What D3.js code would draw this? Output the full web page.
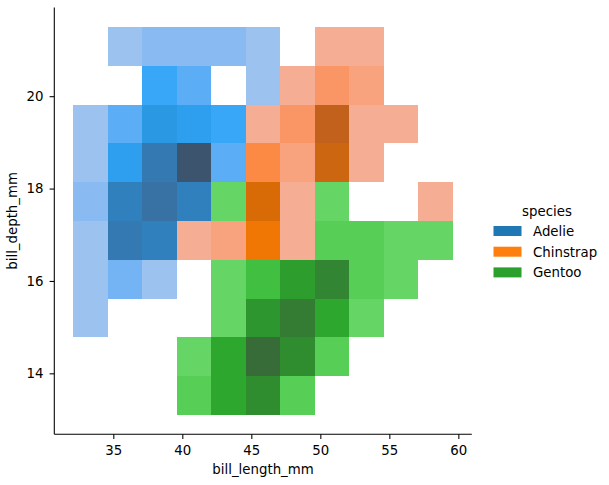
<!DOCTYPE html>
<html>
<head>
<meta charset="utf-8">
<script src="https://cdn.jsdelivr.net/npm/d3@7"></script>
<style>
  body { margin: 0; background: #fff; }
  svg { display: block; }
  text { font-family: "DejaVu Sans", sans-serif; }
</style>
</head>
<body>
<svg id="chart" width="609" height="485"></svg>
<script>
// ---------------- DATA ----------------
const species = ["Adelie", "Chinstrap", "Gentoo"];
const speciesColors = ["#1f77b4", "#ff7f0e", "#2ca02c"];
const xBinStart = 32.1, xBinWidth = 2.5, xBinCount = 11;   // bill_length_mm bins
const yBinStart = 13.1, yBinWidth = 0.84, yBinCount = 10;  // bill_depth_mm bins
const xTicks = [35, 40, 45, 50, 55, 60];
const yTicks = [14, 16, 18, 20];
// counts per bin, rows from bottom (13.1) to top, columns left (32.1) to right
const adelieCounts = [
  [0,0,0,0,0,0,0,0,0,0,0],
  [0,0,0,0,0,0,0,0,0,0,0],
  [1,0,0,0,0,0,0,0,0,0,0],
  [1,3,1,0,0,0,0,0,0,0,0],
  [1,11,10,0,0,0,0,0,0,0,0],
  [2,10,12,10,0,0,0,0,0,0,0],
  [1,6,11,16,4,0,0,0,0,0,0],
  [1,4,7,6,5,0,0,0,0,0,0],
  [0,0,5,4,0,1,0,0,0,0,0],
  [0,1,2,2,2,1,0,0,0,0,0]
];
const chinstrapCounts = [
  [0,0,0,0,0,0,0,0,0,0,0],
  [0,0,0,0,0,0,0,0,0,0,0],
  [0,0,0,0,0,0,0,0,0,0,0],
  [0,0,0,0,0,0,0,0,0,0,0],
  [0,0,0,1,2,6,1,0,0,0,0],
  [0,0,0,0,0,8,1,0,0,0,1],
  [0,0,0,0,0,4,2,9,1,0,0],
  [0,0,0,0,0,1,3,10,1,1,0],
  [0,0,0,0,0,0,1,3,2,0,0],
  [0,0,0,0,0,0,0,1,1,0,0]
];
const gentooCounts = [
  [0,0,0,2,7,10,2,0,0,0,0],
  [0,0,0,1,7,14,10,2,0,0,0],
  [0,0,0,0,1,9,12,7,1,0,0],
  [0,0,0,0,1,4,8,11,2,1,0],
  [0,0,0,0,0,0,0,2,2,1,1],
  [0,0,0,0,1,0,0,1,0,0,0],
  [0,0,0,0,0,0,0,0,0,0,0],
  [0,0,0,0,0,0,0,0,0,0,0],
  [0,0,0,0,0,0,0,0,0,0,0],
  [0,0,0,0,0,0,0,0,0,0,0]
];
const speciesCounts = [adelieCounts, chinstrapCounts, gentooCounts];

// ---------------- HUSL (seaborn's vendored version) ----------------
const M = [[3.2406,-1.5372,-0.4986],[-0.9689,1.8758,0.0415],[0.0557,-0.2040,1.0570]];
const MINV = [[0.4124,0.3576,0.1805],[0.2126,0.7152,0.0722],[0.0193,0.1192,0.9505]];
const refX=0.95047, refY=1.0, refZ=1.08883, refU=0.19784, refV=0.46834, labE=0.008856, labK=903.3;
function maxChroma(L, H) {
  const hrad = H / 180 * Math.PI, sinH = Math.sin(hrad), cosH = Math.cos(hrad);
  const sub1 = Math.pow(L + 16, 3) / 1560896;
  const sub2 = sub1 > 0.008856 ? sub1 : L / 903.3;
  let result = Infinity;
  for (const [m1, m2, m3] of M) {
    const top = (0.99915*m1 + 1.05122*m2 + 1.14460*m3) * sub2;
    const rb = 0.86330*m3 - 0.17266*m2, lb = 0.12949*m3 - 0.38848*m1;
    const bottom = (rb*sinH + lb*cosH) * sub2;
    for (const t of [0, 1]) {
      const C = L * (top - 1.05122*t) / (bottom + 0.17266*sinH*t);
      if (C > 0 && C < result) result = C;
    }
  }
  return result;
}
const dot = (a, b) => a[0]*b[0] + a[1]*b[1] + a[2]*b[2];
const fromLinear = c => c <= 0.0031308 ? 12.92*c : 1.055*Math.pow(c, 1/2.4) - 0.055;
const toLinear = c => c > 0.04045 ? Math.pow((c + 0.055)/1.055, 2.4) : c/12.92;
const fInv = t => Math.pow(t,3) > labE ? Math.pow(t,3) : (116*t - 16)/labK;
const fF = t => t > labE ? Math.pow(t, 1/3) : 7.787*t + 16/116;
function huslToRgb(h, s, l) {
  let L = l, C, H = h;
  if (l > 99.9999) { L = 100; C = 0; }
  else if (l < 0.00001) { L = 0; C = 0; }
  else C = maxChroma(l, h) / 100 * s;
  const hr = H / 180 * Math.PI;
  const U = Math.cos(hr)*C, V = Math.sin(hr)*C;
  if (L === 0) return [0,0,0];
  const varY = fInv((L + 16)/116);
  const varU = U/(13*L) + refU, varV = V/(13*L) + refV;
  const Y = varY*refY;
  const X = 0 - (9*Y*varU)/((varU - 4)*varV - varU*varV);
  const Z = (9*Y - 15*varV*Y - varV*X)/(3*varV);
  return M.map(row => fromLinear(dot(row, [X, Y, Z])));
}
function rgbToHusl(r, g, b) {
  const lin = [toLinear(r), toLinear(g), toLinear(b)];
  const [X, Y, Z] = MINV.map(row => dot(row, lin));
  const den = X + 15*Y + 3*Z;
  const vu = 4*X/den, vv = 9*Y/den;
  const L = 116*fF(Y/refY) - 16;
  const U = 13*L*(vu - refU), V = 13*L*(vv - refV);
  const C = Math.sqrt(U*U + V*V);
  let H = Math.atan2(V, U) * 180 / Math.PI;
  if (H < 0) H += 360;
  const S = C / maxChroma(L, H) * 100;
  return [H, S, L];
}
function cmapFromColor(hex) {
  const c = d3.rgb(hex);
  const [h, s] = rgbToHusl(c.r/255, c.g/255, c.b/255);
  const n = Math.floor(1.15*256);
  const colors = [];
  for (let i = 0; i < 256; i++) {
    const xx = -1 + 2*i/(n - 1);
    const rgb = huslToRgb(h, s*Math.cos(xx), 35 + 45*i/255).map(v => Math.max(0, Math.min(1, v)));
    colors.push(d3.rgb(rgb[0]*255, rgb[1]*255, rgb[2]*255).formatHex());
  }
  return colors.reverse();
}

// ---------------- CHART ----------------
const svg = d3.select("#chart");
const margin = {left: 54.3, right: 471.8, top: 7.5, bottom: 434.3};
const x = d3.scaleLinear().domain([30.725, 60.975]).range([margin.left, margin.right]);
const y = d3.scaleLinear().domain([12.68, 21.92]).range([margin.bottom, margin.top]);

const vmax = d3.max(speciesCounts.flat(2));
const vmin = 0;

const cells = svg.append("g").attr("shape-rendering", "crispEdges");
speciesCounts.forEach((grid, si) => {
  const cmap = cmapFromColor(speciesColors[si]);
  const colorOf = v => {
    let idx = Math.floor((v - vmin)/(vmax - vmin) * 256);
    idx = Math.max(0, Math.min(255, idx));
    return cmap[idx];
  };
  const data = [];
  grid.forEach((row, ri) => row.forEach((v, ci) => { if (v > 0) data.push({ri, ci, v}); }));
  cells.selectAll(null).data(data).enter().append("rect")
    .attr("x", d => x(xBinStart + d.ci*xBinWidth))
    .attr("width", d => x(xBinStart + (d.ci+1)*xBinWidth) - x(xBinStart + d.ci*xBinWidth))
    .attr("y", d => y(yBinStart + (d.ri+1)*yBinWidth))
    .attr("height", d => y(yBinStart + d.ri*yBinWidth) - y(yBinStart + (d.ri+1)*yBinWidth))
    .attr("fill", d => colorOf(d.v));
});

// axes
const xAxis = svg.append("g").attr("transform", `translate(0,${margin.bottom})`)
  .call(d3.axisBottom(x).tickValues(xTicks).tickSize(4.7).tickPadding(6.8).tickFormat(d3.format("d")));
const yAxis = svg.append("g").attr("transform", `translate(${margin.left},0)`)
  .call(d3.axisLeft(y).tickValues(yTicks).tickSize(4.7).tickPadding(6.2).tickFormat(d3.format("d")));
[xAxis, yAxis].forEach(g => {
  g.select(".domain").attr("stroke", "#000").attr("stroke-width", 1.07);
  g.selectAll(".tick line").attr("stroke", "#000").attr("stroke-width", 1.07);
  g.selectAll(".tick text").attr("font-size", "13.33px").attr("fill", "#000")
    .attr("font-family", "DejaVu Sans, sans-serif");
});
xAxis.select(".domain").attr("d", `M${margin.left},0H${margin.right}`);
yAxis.select(".domain").attr("d", `M0,${margin.bottom}V${margin.top}`);

svg.append("text").attr("x", (margin.left + margin.right)/2).attr("y", 474.3)
  .attr("text-anchor", "middle").attr("font-size", "13.33px").text("bill_length_mm");
svg.append("text").attr("transform", `translate(16.5,${(margin.top + margin.bottom)/2}) rotate(-90)`)
  .attr("text-anchor", "middle").attr("font-size", "13.33px").text("bill_depth_mm");

// legend
const legend = svg.append("g");
legend.append("text").attr("x", 547).attr("y", 216).attr("text-anchor", "middle")
  .attr("font-size", "13.33px").text("species");
species.forEach((s, i) => {
  const yy = 226 + i*20.7;
  legend.append("rect").attr("x", 493.5).attr("y", yy).attr("width", 28).attr("height", 10)
    .attr("fill", speciesColors[i]);
  legend.append("text").attr("x", 533).attr("y", yy + 10).attr("font-size", "13.33px").text(s);
});
</script>
</body>
</html>
